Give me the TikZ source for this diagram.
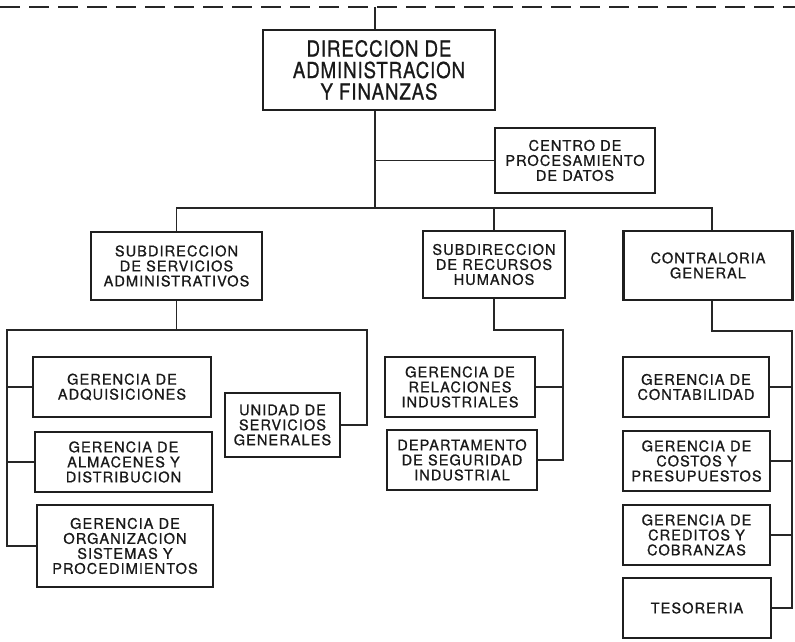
\documentclass[tikz,border=0pt]{standalone}
\usepackage{fontspec}
\setmainfont{TeX Gyre Heros}
\newfontfamily\boxfont[LetterSpace=7,FakeBold=0.8]{TeX Gyre Heros}
\newfontfamily\bigfont[FakeStretch=0.85,LetterSpace=4,FakeBold=0.8]{TeX Gyre Heros}
\begin{document}
\begin{tikzpicture}[x=1pt,y=-1pt,
  unit/.style={draw=black!88,line width=2.2pt,rectangle,inner sep=0pt,align=center,
    font=\boxfont\fontsize{14.6}{15}\selectfont,text=black!90},
  link/.style={draw=black!85,line width=1.8pt,line join=miter},
  topline/.style={draw=black!85,line width=2.6pt,dash pattern=on 20pt off 9pt}]
\useasboundingbox (0,0) rectangle (795,642);
\node[unit,minimum width=232pt,minimum height=80pt,font=\bigfont\fontsize{22}{21.5}\selectfont] (dir) at (379,70) {DIRECCION DE\\ADMINISTRACION\\Y FINANZAS};
\node[unit,minimum width=160pt,minimum height=65pt] (cpd) at (575,160.5) {CENTRO DE\\PROCESAMIENTO\\DE DATOS};
\node[unit,minimum width=171pt,minimum height=68pt] (sa) at (176.5,266) {SUBDIRECCION\\DE SERVICIOS\\ADMINISTRATIVOS};
\node[unit,minimum width=142pt,minimum height=67pt] (rh) at (494,264.5) {SUBDIRECCION\\DE RECURSOS\\HUMANOS};
\node[unit,minimum width=169pt,minimum height=69pt] (cg) at (708,265.5) {CONTRALORIA\\GENERAL};
% SA children
\node[unit,minimum width=178pt,minimum height=60pt] (adq) at (122,387) {GERENCIA DE\\ADQUISICIONES};
\node[unit,minimum width=177pt,minimum height=60pt] (alm) at (123.5,462) {GERENCIA DE\\ALMACENES Y\\DISTRIBUCION};
\node[unit,minimum width=176pt,minimum height=82pt] (org) at (125,546) {GERENCIA DE\\ORGANIZACION\\SISTEMAS Y\\PROCEDIMIENTOS};
\node[unit,minimum width=115pt,minimum height=64pt] (usg) at (282.5,425) {UNIDAD DE\\SERVICIOS\\GENERALES};
% RH children
\node[unit,minimum width=150pt,minimum height=60pt] (rel) at (460,387) {GERENCIA DE\\RELACIONES\\INDUSTRIALES};
\node[unit,minimum width=150pt,minimum height=60pt] (seg) at (462,460) {DEPARTAMENTO\\DE SEGURIDAD\\INDUSTRIAL};
% CG children
\node[unit,minimum width=146pt,minimum height=60pt] (con) at (696,387) {GERENCIA DE\\CONTABILIDAD};
\node[unit,minimum width=147pt,minimum height=60pt] (cos) at (696.5,461) {GERENCIA DE\\COSTOS Y\\PRESUPUESTOS};
\node[unit,minimum width=147pt,minimum height=60pt] (cre) at (696.5,535) {GERENCIA DE\\CREDITOS Y\\COBRANZAS};
\node[unit,minimum width=148pt,minimum height=60pt] (tes) at (697,608) {TESORERIA};
% coordinates
\coordinate (tl) at (0,7);
\coordinate (tr) at (795,7);
\coordinate (tin) at (375,7);
\coordinate (busl) at (176.5,208);
\coordinate (busr) at (712,208);
\coordinate (busm) at (375,208);
\coordinate (sal) at (7,330);
\coordinate (sar) at (367,330);
\coordinate (rhr) at (563,330);
\coordinate (cgr) at (792,331);
% top dashed line
\draw[topline] (tl) -- (tr);
\draw[link] (tin) -- (tin |- dir.north);
\draw[link] (dir.south -| tin) -- (busm);
\draw[link] (tin |- cpd.west) -- (cpd.west);
\draw[link] (sa.north) |- (busr) -- (cg.north -| busr);
\draw[link] (rh.north) -- (rh.north |- busl);
% SA subtree
\draw[link] (sa.south) -- (sa.south |- sal);
\draw[link] (adq.west -| sal) -- (sal) -- (sar) -- (sar |- usg.east) -- (usg.east);
\draw[link] (sal) -- (sal |- org.west) -- (org.west);
\draw[link] (adq.west -| sal) -- (adq.west);
\draw[link] (alm.west -| sal) -- (alm.west);
% RH subtree
\draw[link] (rh.south) |- (rhr) -- (rhr |- seg.east) -- (seg.east);
\draw[link] (rhr |- rel.east) -- (rel.east);
% CG subtree
\draw[link] (cg.south -| busr) |- (cgr) -- (cgr |- tes.east) -- (tes.east);
\draw[link] (cgr |- con.east) -- (con.east);
\draw[link] (cgr |- cos.east) -- (cos.east);
\draw[link] (cgr |- cre.east) -- (cre.east);
\end{tikzpicture}
\end{document}
